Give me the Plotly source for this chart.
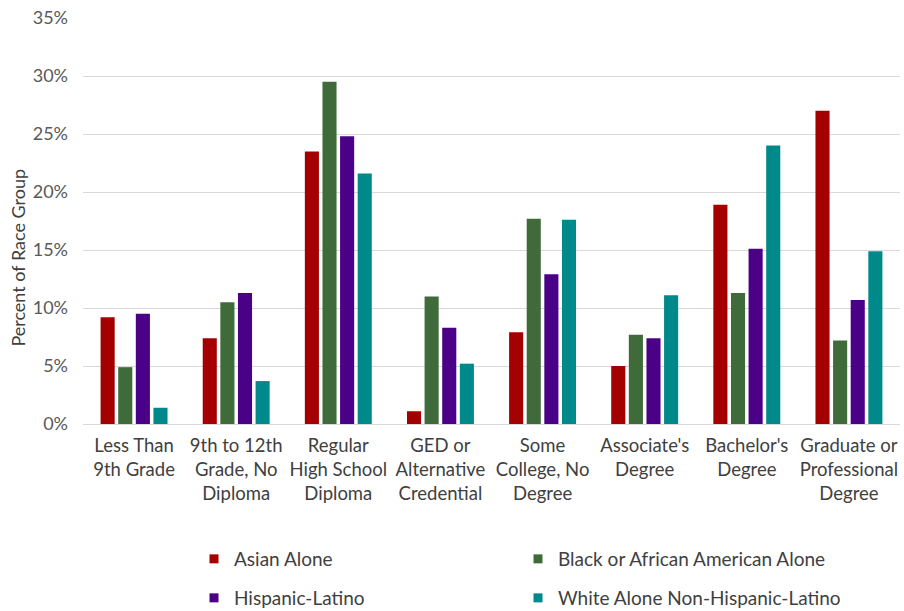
import plotly.graph_objects as go

categories = ["Less Than<br>9th Grade", "9th to 12th<br>Grade, No<br>Diploma", "Regular<br>High School<br>Diploma",
              "GED or<br>Alternative<br>Credential", "Some<br>College, No<br>Degree", "Associate's<br>Degree",
              "Bachelor's<br>Degree", "Graduate or<br>Professional<br>Degree"]
asian = [9.2, 7.4, 23.5, 1.1, 7.9, 5.0, 18.9, 27.0]
black = [4.9, 10.5, 29.5, 11.0, 17.7, 7.7, 11.3, 7.2]
hispanic = [9.5, 11.3, 24.8, 8.3, 12.9, 7.4, 15.1, 10.7]
white = [1.4, 3.7, 21.6, 5.2, 17.6, 11.1, 24.0, 14.9]
series_names = ["Asian Alone", "Black or African American Alone", "Hispanic-Latino", "White Alone Non-Hispanic-Latino"]
colors = ["#A50000", "#3F6B3B", "#4B0088", "#00898A"]
legends = ["legend", "legend", "legend2", "legend2"]

fig = go.Figure()
for name, vals, c in zip(series_names, [asian, black, hispanic, white], colors):
    fig.add_trace(go.Bar(x=categories, y=[v / 100 for v in vals], name=name, marker_color=c,
                         marker_line_width=0, showlegend=False))
for name, c, lg in zip(series_names, colors, legends):
    fig.add_trace(go.Scatter(x=[None], y=[None], mode="markers", name=name, legend=lg,
                             marker=dict(symbol="square", size=9, color=c)))

font_fam = "Lato, Calibri, Carlito, sans-serif"
leg_common = dict(orientation="h", xref="container", yref="container", xanchor="left", yanchor="middle",
                  entrywidth=279, entrywidthmode="pixels", font=dict(size=19, color="#404040"),
                  itemwidth=30, traceorder="normal", bgcolor="rgba(0,0,0,0)")
fig.update_layout(
    width=904, height=611,
    margin=dict(l=83, r=4, t=18, b=187, autoexpand=False),
    paper_bgcolor="white", plot_bgcolor="white",
    barmode="group", bargap=0.31, bargroupgap=0.2,
    font=dict(family=font_fam, size=18, color="#404040"),
    legend=dict(x=194 / 904, y=1 - 559 / 611, **leg_common),
    legend2=dict(x=194 / 904, y=1 - 598 / 611, **leg_common),
    xaxis=dict(showgrid=False, showline=True, linecolor="#d9d9d9", linewidth=1,
               tickfont=dict(size=18.5, color="#404040"), ticks="", ticklabelstandoff=5),
    yaxis=dict(range=[0, 0.35], dtick=0.05, tickformat=".0%", showgrid=True, gridcolor="#d9d9d9",
               gridwidth=1, zeroline=False, tickfont=dict(size=18, color="#595959"), ticks="",
               ticklabelstandoff=14),
    annotations=[dict(text="Percent of Race Group", xref="paper", yref="paper", x=-0.08, y=0.409,
                      textangle=-90, showarrow=False, font=dict(size=18, color="#404040"),
                      xanchor="center", yanchor="middle")],
)
fig.write_html("out.html")
